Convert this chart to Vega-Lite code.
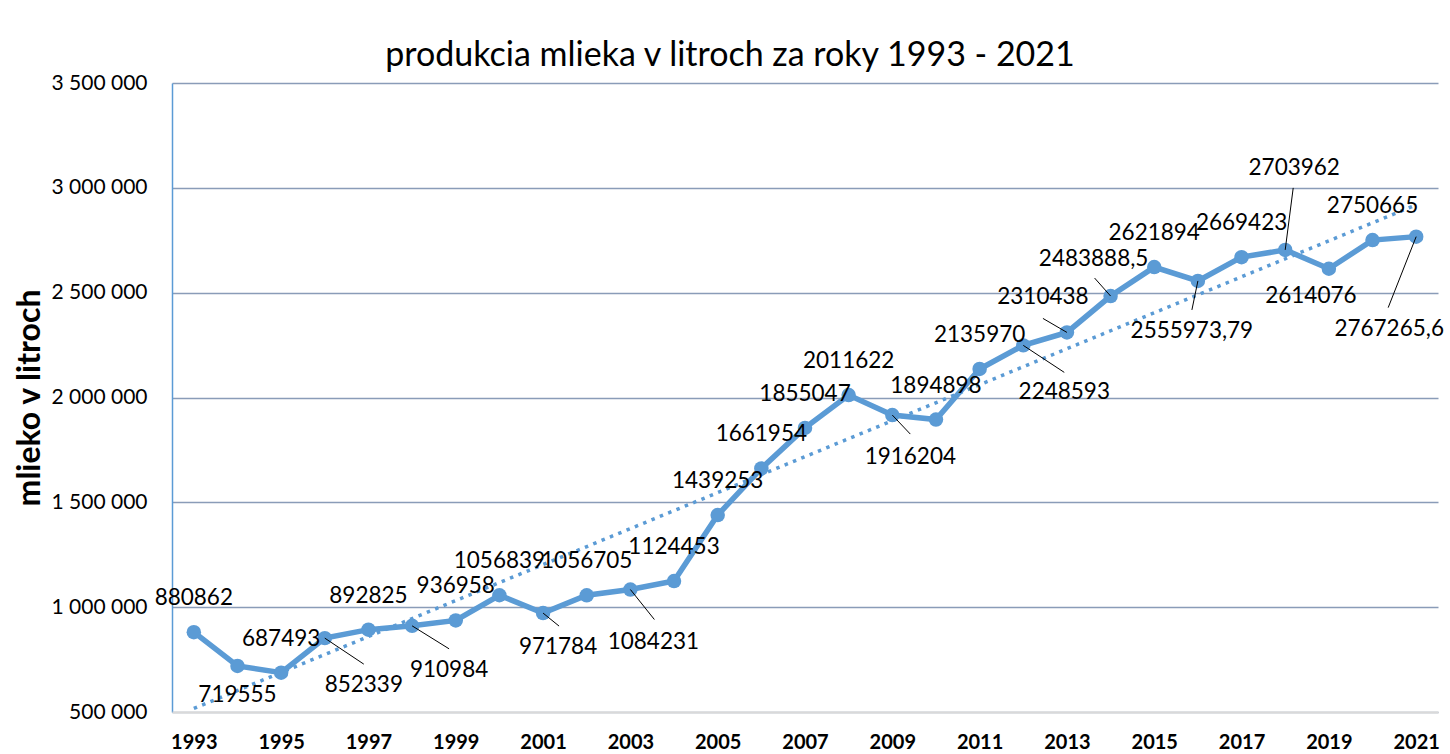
{
 "$schema": "https://vega.github.io/schema/vega-lite/v6.json",
 "width": 1266, "height": 629,
 "autosize": "none",
 "padding": {"left": 172, "top": 83, "right": 12, "bottom": 42},
 "background": "white",
 "title": {"text": "produkcia mlieka v litroch za roky 1993 - 2021", "font": "Lato", "fontSize": 34, "fontWeight": "normal", "color": "black", "anchor": "middle", "dx": -75, "offset": -1},
 "config": {
  "view": {"stroke": null},
  "locale": {"number": {"decimal": ",", "thousands": " ", "grouping": [3], "currency": ["", " €"]}},
  "text": {"font": "Lato", "fontSize": 22.5, "baseline": "middle", "align": "center", "color": "black"}
 },
 "data": {"values": [
  {"rok": 1993, "mlieko": 880862},
  {"rok": 1994, "mlieko": 719555},
  {"rok": 1995, "mlieko": 687493},
  {"rok": 1996, "mlieko": 852339},
  {"rok": 1997, "mlieko": 892825},
  {"rok": 1998, "mlieko": 910984},
  {"rok": 1999, "mlieko": 936958},
  {"rok": 2000, "mlieko": 1056839},
  {"rok": 2001, "mlieko": 971784},
  {"rok": 2002, "mlieko": 1056705},
  {"rok": 2003, "mlieko": 1084231},
  {"rok": 2004, "mlieko": 1124453},
  {"rok": 2005, "mlieko": 1439253},
  {"rok": 2006, "mlieko": 1661954},
  {"rok": 2007, "mlieko": 1855047},
  {"rok": 2008, "mlieko": 2011622},
  {"rok": 2009, "mlieko": 1916204},
  {"rok": 2010, "mlieko": 1894898},
  {"rok": 2011, "mlieko": 2135970},
  {"rok": 2012, "mlieko": 2248593},
  {"rok": 2013, "mlieko": 2310438},
  {"rok": 2014, "mlieko": 2483888.5},
  {"rok": 2015, "mlieko": 2621894},
  {"rok": 2016, "mlieko": 2555973.79},
  {"rok": 2017, "mlieko": 2669423},
  {"rok": 2018, "mlieko": 2703962},
  {"rok": 2019, "mlieko": 2614076},
  {"rok": 2020, "mlieko": 2750665},
  {"rok": 2021, "mlieko": 2767265.6}
 ]},
 "encoding": {
  "x": {"field": "rok", "type": "ordinal", "scale": {"type": "point", "padding": 0.5},
   "axis": {"title": null, "labelAngle": 0, "labelExpr": "datum.value % 2 == 1 ? datum.label : ''", "labelFont": "Lato", "labelFontSize": 20, "labelFontWeight": "bold", "labelColor": "black", "ticks": false, "tickSize": 0, "labelPadding": 20, "domainColor": "#D9D9D9", "domainWidth": 2, "grid": false, "zindex": 1}},
  "y": {"field": "mlieko", "type": "quantitative", "scale": {"domain": [500000, 3500000], "nice": false, "zero": false},
   "axis": {"title": "mlieko v litroch", "titleFont": "Lato", "titleFontSize": 32, "titleFontWeight": "bold", "titleColor": "black", "titlePadding": 4, "values": [500000, 1000000, 1500000, 2000000, 2500000, 3000000, 3500000], "format": ",d", "labelFont": "Lato", "labelFontSize": 21, "labelFontWeight": "normal", "labelColor": "black", "labelPadding": 25, "ticks": false, "tickSize": 0, "domainColor": "#5B9BD5", "domainWidth": 1.5, "grid": true, "gridColor": "#8A9CB8", "gridWidth": 1.5}}
 },
 "layer": [
  {"mark": {"type": "line", "color": "#5B9BD5", "strokeWidth": 5.5}},
  {"mark": {"type": "point", "filled": true, "opacity": 1, "color": "#5B9BD5", "size": 210}},
  {"transform": [{"regression": "mlieko", "on": "rok"}], "mark": {"type": "line", "color": "#5B9BD5", "strokeWidth": 3.5, "strokeDash": [3.5, 5.5]}},
  {"transform": [{"filter": "indexof([1994,1996,1998,2001,2003,2009,2012,2013,2014,2016,2018,2019,2021], datum.rok) < 0"}],
   "mark": {"type": "text", "dy": -34}, "encoding": {"text": {"field": "mlieko", "format": ".10~g"}}},
  {"transform": [{"filter": "datum.rok == 1994"}], "mark": {"type": "text", "dx": 0, "dy": 29}, "encoding": {"text": {"field": "mlieko", "format": ".10~g"}}},
  {"transform": [{"filter": "datum.rok == 2019"}], "mark": {"type": "text", "dx": -18, "dy": 27}, "encoding": {"text": {"field": "mlieko", "format": ".10~g"}}},
  {"transform": [{"filter": "datum.rok == 1996"}], "layer": [
   {"mark": {"type": "rule", "color": "black", "strokeWidth": 1, "x2Offset": 39, "y2Offset": 26}, "encoding": {"x2": {"field": "rok"}, "y2": {"field": "mlieko"}}},
   {"mark": {"type": "text", "dx": 39, "dy": 47}, "encoding": {"text": {"field": "mlieko", "format": ".10~g"}}}]},
  {"transform": [{"filter": "datum.rok == 1998"}], "layer": [
   {"mark": {"type": "rule", "color": "black", "strokeWidth": 1, "x2Offset": 37, "y2Offset": 23}, "encoding": {"x2": {"field": "rok"}, "y2": {"field": "mlieko"}}},
   {"mark": {"type": "text", "dx": 37, "dy": 44}, "encoding": {"text": {"field": "mlieko", "format": ".10~g"}}}]},
  {"transform": [{"filter": "datum.rok == 2001"}], "layer": [
   {"mark": {"type": "rule", "color": "black", "strokeWidth": 1, "x2Offset": 16, "y2Offset": 13}, "encoding": {"x2": {"field": "rok"}, "y2": {"field": "mlieko"}}},
   {"mark": {"type": "text", "dx": 15, "dy": 34}, "encoding": {"text": {"field": "mlieko", "format": ".10~g"}}}]},
  {"transform": [{"filter": "datum.rok == 2003"}], "layer": [
   {"mark": {"type": "rule", "color": "black", "strokeWidth": 1, "x2Offset": 24, "y2Offset": 30}, "encoding": {"x2": {"field": "rok"}, "y2": {"field": "mlieko"}}},
   {"mark": {"type": "text", "dx": 23, "dy": 52}, "encoding": {"text": {"field": "mlieko", "format": ".10~g"}}}]},
  {"transform": [{"filter": "datum.rok == 2009"}], "layer": [
   {"mark": {"type": "rule", "color": "black", "strokeWidth": 1, "x2Offset": 18, "y2Offset": 19}, "encoding": {"x2": {"field": "rok"}, "y2": {"field": "mlieko"}}},
   {"mark": {"type": "text", "dx": 18, "dy": 42}, "encoding": {"text": {"field": "mlieko", "format": ".10~g"}}}]},
  {"transform": [{"filter": "datum.rok == 2012"}], "layer": [
   {"mark": {"type": "rule", "color": "black", "strokeWidth": 1, "x2Offset": 41, "y2Offset": 27}, "encoding": {"x2": {"field": "rok"}, "y2": {"field": "mlieko"}}},
   {"mark": {"type": "text", "dx": 41, "dy": 47}, "encoding": {"text": {"field": "mlieko", "format": ".10~g"}}}]},
  {"transform": [{"filter": "datum.rok == 2013"}], "layer": [
   {"mark": {"type": "rule", "color": "black", "strokeWidth": 1, "x2Offset": -24, "y2Offset": -14}, "encoding": {"x2": {"field": "rok"}, "y2": {"field": "mlieko"}}},
   {"mark": {"type": "text", "dx": -24, "dy": -35}, "encoding": {"text": {"field": "mlieko", "format": ".10~g"}}}]},
  {"transform": [{"filter": "datum.rok == 2014"}], "layer": [
   {"mark": {"type": "rule", "color": "black", "strokeWidth": 1, "x2Offset": -16, "y2Offset": -18}, "encoding": {"x2": {"field": "rok"}, "y2": {"field": "mlieko"}}},
   {"mark": {"type": "text", "dx": -17, "dy": -37}, "encoding": {"text": {"field": "mlieko", "format": ".10~g"}}}]},
  {"transform": [{"filter": "datum.rok == 2016"}], "layer": [
   {"mark": {"type": "rule", "color": "black", "strokeWidth": 1, "x2Offset": -6, "y2Offset": 29}, "encoding": {"x2": {"field": "rok"}, "y2": {"field": "mlieko"}}},
   {"mark": {"type": "text", "dx": -6, "dy": 50}, "encoding": {"text": {"field": "mlieko", "format": ".10~g"}}}]},
  {"transform": [{"filter": "datum.rok == 2018"}], "layer": [
   {"mark": {"type": "rule", "color": "black", "strokeWidth": 1, "x2Offset": 8, "y2Offset": -62}, "encoding": {"x2": {"field": "rok"}, "y2": {"field": "mlieko"}}},
   {"mark": {"type": "text", "dx": 9, "dy": -82}, "encoding": {"text": {"field": "mlieko", "format": ".10~g"}}}]},
  {"transform": [{"filter": "datum.rok == 2021"}], "layer": [
   {"mark": {"type": "rule", "color": "black", "strokeWidth": 1, "x2Offset": -28, "y2Offset": 71}, "encoding": {"x2": {"field": "rok"}, "y2": {"field": "mlieko"}}},
   {"mark": {"type": "text", "dx": -27, "dy": 92}, "encoding": {"text": {"field": "mlieko", "format": ".10~g"}}}]}
 ]
}
